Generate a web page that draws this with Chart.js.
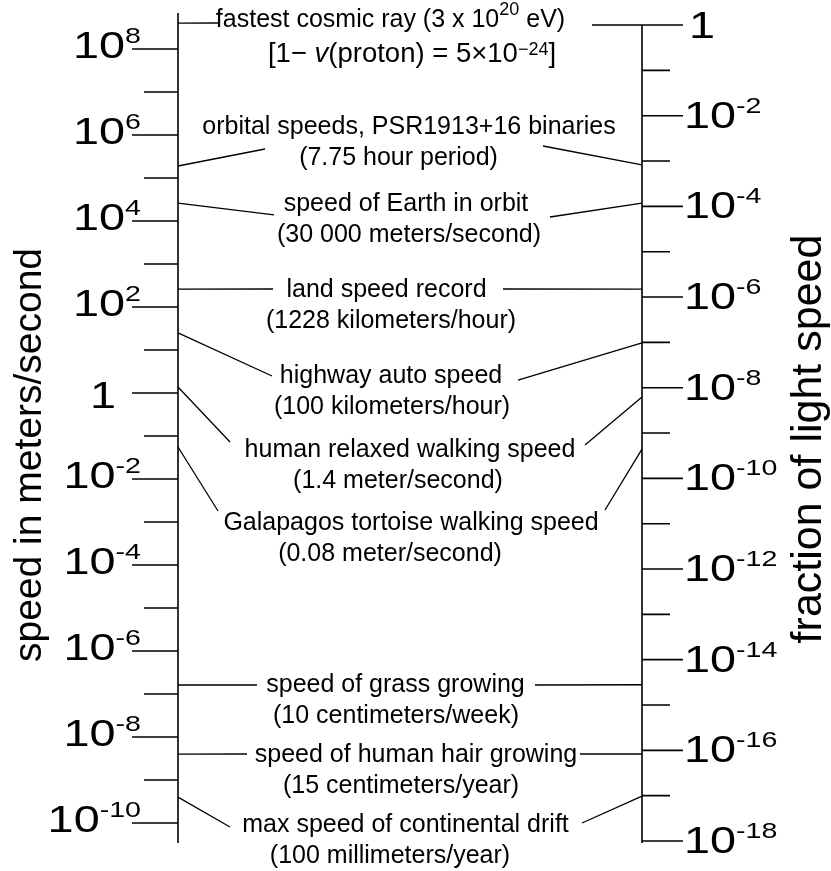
<!DOCTYPE html>
<html><head><meta charset="utf-8">
<script src="https://cdn.jsdelivr.net/npm/chart.js@4.4.1/dist/chart.umd.min.js"></script>
<style>html,body{margin:0;padding:0;background:#fff;}canvas{display:block;}</style>
</head><body>
<canvas id="c" width="831" height="871"></canvas>
<script>
// ---------- DATA ----------
const events = ['fastest cosmic ray', 'orbital speeds, PSR1913+16 binaries', 'speed of Earth in orbit',
  'land speed record', 'highway auto speed', 'human relaxed walking speed', 'Galapagos tortoise walking speed',
  'speed of grass growing', 'speed of human hair growing', 'max speed of continental drift'];
// speed in meters/second (left axis)
const speedMS = [4.0e8, 1.9e5, 2.6e4, 260, 25, 1.38, 0.0555, 1.62e-7, 4.0e-9, 4.0e-10];
// fraction of light speed (right axis)
const fractionC = [1, 8.2e-4, 1.18e-4, 1.5e-6, 9.7e-8, 6.2e-9, 4.4e-10, 2.8e-15, 8.3e-17, 9.8e-18];

const leftMajorExp = [8, 6, 4, 2, 0, -2, -4, -6, -8, -10];
const leftMinorExp = [7, 5, 3, 1, -1, -3, -5, -7, -9];
const rightMajorExp = [0, -2, -4, -6, -8, -10, -12, -14, -16, -18];
const rightMinorExp = [-1, -3, -5, -7, -9, -11, -13, -15, -17];
const leftTickLabels = [['10','8'],['10','6'],['10','4'],['10','2'],['1',''],['10','-2'],['10','-4'],['10','-6'],['10','-8'],['10','-10']];
const rightTickLabels = [['1',''],['10','-2'],['10','-4'],['10','-6'],['10','-8'],['10','-10'],['10','-12'],['10','-14'],['10','-16'],['10','-18']];

const labelLine1 = [
  [{t:'fastest cosmic ray (3 x 10'},{t:'20',sup:true},{t:' eV)'}],
  'orbital speeds, PSR1913+16 binaries', 'speed of Earth in orbit', 'land speed record',
  'highway auto speed', 'human relaxed walking speed', 'Galapagos tortoise walking speed',
  'speed of grass growing', 'speed of human hair growing', 'max speed of continental drift'];
const labelLine2 = [
  [{t:'[1\u2212 '},{t:'v',it:true},{t:'(proton) = 5\u00d710'},{t:'\u221224',sup:true},{t:']'}],
  '(7.75 hour period)', '(30 000 meters/second)', '(1228 kilometers/hour)', '(100 kilometers/hour)',
  '(1.4 meter/second)', '(0.08 meter/second)', '(10 centimeters/week)', '(15 centimeters/year)',
  '(100 millimeters/year)'];
const leftTitle = 'speed in meters/second';
const rightTitle = 'fraction of light speed';

// ---------- LAYOUT (x in x-scale units, y in decades of the left axis) ----------
const line1X = [212.5, 231, 228, 208.5, 213, 232, 233, 217.5, 238, 227.5];
const line2X = [234, 220.5, 231, 213, 214, 220, 212, 218, 223, 212];
const line1Dec = [8.512, 6.023, 4.233, 2.233, 0.233, -1.488, -3.186, -6.953, -8.581, -10.209];
const leftAnchor = [[40,8.605],[87,5.674],[96,4.140],[95,2.419],[94,0.395],[52,-1.140],[40,-2.744],[79,-6.791],[69,-8.395],[52,-10.093]];
const rightAnchor = [[414,8.558],[365,5.744],[372,4.093],[325,2.419],[340,0.302],[407,-1.209],[427,-2.721],[357,-6.791],[402,-8.395],[404,-10.0]];

const FONT = '"Liberation Sans", Arial, Helvetica, sans-serif';
const INK = '#000';

function segList(s){ return typeof s === 'string' ? [{t:s}] : s; }
function drawRich(ctx, line, cx, by, size, supSize, supRise) {
  const segs = segList(line);
  const fontFor = s => (s.it ? 'italic ' : '') + (s.sup ? supSize : size) + 'px ' + FONT;
  const widths = segs.map(s => { ctx.font = fontFor(s); return ctx.measureText(s.t).width; });
  let x = cx - widths.reduce((a,b)=>a+b,0)/2;
  ctx.textAlign = 'left'; ctx.textBaseline = 'alphabetic';
  segs.forEach((s,i) => { ctx.font = fontFor(s); ctx.fillText(s.t, x, by - (s.sup ? supRise : 0)); x += widths[i]; });
}
const TSX = 1.3, TMAIN = 36, TSUP = 22, TRISE = 15;
function drawTickLabel(ctx, base, exp, x, by, alignRight) {
  ctx.textAlign = 'left'; ctx.textBaseline = 'alphabetic';
  ctx.font = TMAIN + 'px ' + FONT; const bw = ctx.measureText(base).width;
  ctx.font = TSUP + 'px ' + FONT; const ew = exp ? ctx.measureText(exp).width : 0;
  const total = (bw + ew) * TSX;
  const x0 = alignRight ? x - total : x;
  ctx.save(); ctx.translate(x0, by); ctx.scale(TSX, 1);
  ctx.font = TMAIN + 'px ' + FONT; ctx.fillText(base, 0, 0);
  if (exp) { ctx.font = TSUP + 'px ' + FONT; ctx.fillText(exp, bw, -TRISE); }
  ctx.restore();
}

const scalePlugin = {
  id: 'speedScale',
  afterDatasetsDraw(chart) {
    const ctx = chart.ctx, ca = chart.chartArea;
    const xs = chart.scales.x, yL = chart.scales.y, yR = chart.scales.yR;
    const xL = xs.getPixelForValue(0), xRt = xs.getPixelForValue(464);
    ctx.save();
    ctx.strokeStyle = INK; ctx.fillStyle = INK; ctx.lineCap = 'butt';
    // axis lines
    ctx.lineWidth = 1.6;
    ctx.beginPath();
    ctx.moveTo(xL, ca.top); ctx.lineTo(xL, ca.bottom);
    ctx.moveTo(xRt, yR.getPixelForValue(1)); ctx.lineTo(xRt, ca.bottom);
    // ticks
    leftMajorExp.forEach(e => { const y = yL.getPixelForValue(Math.pow(10, e)); ctx.moveTo(xL - 46, y); ctx.lineTo(xL, y); });
    leftMinorExp.forEach(e => { const y = yL.getPixelForValue(Math.pow(10, e)); ctx.moveTo(xL - 34, y); ctx.lineTo(xL, y); });
    rightMajorExp.forEach(e => { const y = yR.getPixelForValue(Math.pow(10, e)); ctx.moveTo(xRt, y); ctx.lineTo(xRt + 41, y); });
    rightMinorExp.forEach(e => { const y = yR.getPixelForValue(Math.pow(10, e)); ctx.moveTo(xRt, y); ctx.lineTo(xRt + 28, y); });
    ctx.stroke();

    // tick labels
    leftMajorExp.forEach((e, i) => {
      const y = yL.getPixelForValue(Math.pow(10, e));
      const [b, ex] = leftTickLabels[i];
      if (ex) drawTickLabel(ctx, b, ex, xL - 37, y + 9, true);
      else drawTickLabel(ctx, b, ex, xL - 62, y + 15, true);
    });
    rightMajorExp.forEach((e, i) => {
      const y = yR.getPixelForValue(Math.pow(10, e));
      const [b, ex] = rightTickLabels[i];
      if (ex) drawTickLabel(ctx, b, ex, xRt + 42, y + 12, false);
      else drawTickLabel(ctx, b, ex, xRt + 47, y + 13, false);
    });

    // leader lines: from dataset points on each axis to the labels
    const mL = chart.getDatasetMeta(0).data, mR = chart.getDatasetMeta(1).data;
    ctx.lineWidth = 1.3;
    ctx.beginPath();
    events.forEach((ev, i) => {
      ctx.moveTo(mL[i].x, mL[i].y);
      ctx.lineTo(xs.getPixelForValue(leftAnchor[i][0]), yL.getPixelForValue(Math.pow(10, leftAnchor[i][1])));
      ctx.moveTo(xs.getPixelForValue(rightAnchor[i][0]), yL.getPixelForValue(Math.pow(10, rightAnchor[i][1])));
      ctx.lineTo(mR[i].x, mR[i].y);
    });
    ctx.stroke();

    // labels
    events.forEach((ev, i) => {
      const by = yL.getPixelForValue(Math.pow(10, line1Dec[i]));
      drawRich(ctx, labelLine1[i], xs.getPixelForValue(line1X[i]), by, 25, 18, 12);
      if (i === 0) drawRich(ctx, labelLine2[i], xs.getPixelForValue(line2X[i]), by + 35, 27.5, 18, 7);
      else drawRich(ctx, labelLine2[i], xs.getPixelForValue(line2X[i]), by + 31, 25, 18, 12);
    });

    // axis titles
    ctx.textAlign = 'center'; ctx.textBaseline = 'alphabetic';
    ctx.font = '39px ' + FONT;
    ctx.save(); ctx.translate(41, 455); ctx.rotate(-Math.PI / 2); ctx.fillText(leftTitle, 0, 0); ctx.restore();
    ctx.font = '43px ' + FONT;
    ctx.save(); ctx.translate(821, 439); ctx.rotate(-Math.PI / 2); ctx.fillText(rightTitle, 0, 0); ctx.restore();
    ctx.restore();
  }
};

new Chart(document.getElementById('c'), {
  type: 'scatter',
  data: {
    datasets: [
      { label: 'speed in meters/second', data: speedMS.map(v => ({ x: 0, y: v })), yAxisID: 'y', pointRadius: 0, clip: false },
      { label: 'fraction of light speed', data: fractionC.map(v => ({ x: 464, y: v })), yAxisID: 'yR', pointRadius: 0, clip: false }
    ]
  },
  options: {
    responsive: false, animation: false, devicePixelRatio: 1,
    layout: { padding: { left: 178, right: 189, top: 13, bottom: 28 } },
    plugins: { legend: { display: false }, tooltip: { enabled: false } },
    scales: {
      x: { type: 'linear', min: 0, max: 464, display: false },
      y: { type: 'logarithmic', position: 'left', bounds: 'data', min: Math.pow(10, -10.465), max: Math.pow(10, 8.837), display: false },
      yR: { type: 'logarithmic', position: 'right', bounds: 'data', min: Math.pow(10, -18.044), max: Math.pow(10, 0.265), display: false }
    }
  },
  plugins: [scalePlugin]
});
</script>
</body></html>
